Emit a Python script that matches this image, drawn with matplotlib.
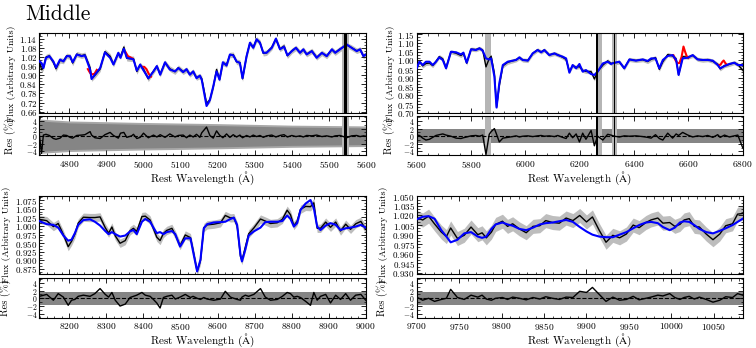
import numpy as np
import matplotlib
matplotlib.use('Agg')
import matplotlib.pyplot as plt
from matplotlib.ticker import MultipleLocator, AutoMinorLocator

plt.rcParams['font.family'] = 'serif'
plt.rcParams['font.serif'] = ['cmr10']
plt.rcParams['mathtext.fontset'] = 'cm'
plt.rcParams['axes.formatter.use_mathtext'] = True
plt.rcParams['xtick.direction'] = 'in'
plt.rcParams['ytick.direction'] = 'in'
plt.rcParams['xtick.top'] = True
plt.rcParams['ytick.right'] = True
plt.rcParams['xtick.labelsize'] = 6.8
plt.rcParams['ytick.labelsize'] = 6.5
plt.rcParams['xtick.major.pad'] = 2.5
plt.rcParams['ytick.major.pad'] = 1.5

W, H = 756, 348

# ---- panel 1 : 4720 - 5600 A ----
wave1 = [4719, 4725, 4730, 4737, 4746, 4757, 4764, 4775, 4784, 4793,
         4802, 4809, 4820, 4833, 4842, 4856, 4860, 4869, 4883, 4896,
         4910, 4919, 4932, 4938, 4947, 4955, 4968, 4973, 4982, 4991,
         5000, 5013, 5027, 5036, 5045, 5058, 5071, 5085, 5094, 5107,
         5116, 5125, 5134, 5143, 5152, 5157, 5170, 5179, 5188, 5197,
         5205, 5214, 5224, 5233, 5242, 5251, 5260, 5267, 5278, 5287,
         5296, 5305, 5314, 5323, 5332, 5346, 5357, 5368, 5379, 5388,
         5400, 5411, 5422, 5431, 5440, 5454, 5467, 5481, 5494, 5508,
         5517, 5530, 5548, 5561, 5575, 5584, 5593, 5600]
model1 = [0.992, 0.98, 0.947, 1.014, 1.025, 0.99, 0.95, 1.003, 0.99, 1.025,
          1.025, 0.985, 1.036, 1.025, 1.03, 0.937, 0.875, 0.903, 0.947, 1.05,
          1.014, 0.97, 1.047, 1.014, 1.074, 1.014, 1.007, 1.003, 0.93, 0.97,
          0.932, 0.88, 0.925, 0.96, 0.903, 0.985, 0.937, 0.925, 0.947, 0.92,
          0.94, 0.903, 0.925, 0.88, 0.897, 0.87, 0.698, 0.737, 0.826, 0.925,
          0.87, 0.985, 0.963, 1.036, 1.03, 0.99, 0.98, 0.88, 1.025, 1.113,
          1.08, 1.136, 1.113, 1.047, 1.047, 1.08, 1.14, 1.07, 1.087, 1.03,
          1.058, 1.08, 1.047, 1.07, 1.036, 1.058, 1.014, 1.047, 1.025, 1.07,
          1.047, 1.07, 1.102, 1.08, 1.058, 1.07, 1.025, 1.036]
res1 = [0.5, -4.5, 0.3, 0.5, 0.2, -0.6, -0.8, -0.5, 0.3, 0.2,
        -0.3, -0.5, 0.2, 0.3, 0.4, 1.2, 0.3, -0.4, -0.6, 0.4,
        1.0, 0.2, -0.5, 0.8, 1.0, -0.3, 0.1, 0.5, -0.6, -0.3,
        0.8, -0.4, 0.3, -0.2, 0.4, -0.3, 0.6, -0.2, 0.2, 0.3,
        -0.4, 0.3, -0.2, 0.5, -0.3, 0.9, 2.4, 0.2, -0.5, 1.4,
        0.3, -0.4, 0.6, -0.3, 0.4, -0.2, 0.3, -0.4, 0.2, -0.2,
        0.3, -0.1, 0.2, -0.3, 0.1, 0.3, -0.2, 0.2, 0.4, -0.2,
        0.2, -0.1, 0.1, -0.2, 0.2, 0.1, 0.3, -0.1, 0.1, -0.2,
        0.1, 0.2, -0.4, 0.1, 0.2, -0.1, 0.1, 0.0]
err_wave1 = [4719, 4800, 5000, 5200, 5400, 5600]
err_pct1 = [4.0, 3.5, 3.1, 2.8, 2.4, 2.2]
red1 = [([4850, 4856, 4862, 4868, 4874], [0.94, 0.915, 0.905, 0.91, 0.935]),
        ([4952, 4958, 4964, 4970], [1.05, 1.025, 1.018, 1.01]),
        ([4996, 5002, 5008, 5014, 5020], [0.955, 0.955, 0.94, 0.91, 0.89])]
grey1 = [(5536, 5553)]
black1 = [(5540, 5549)]

# ---- panel 2 : 5600 - 6800 A ----
wave2 = [5600, 5610, 5622, 5634, 5647, 5659, 5671, 5683, 5696, 5708,
         5726, 5745, 5763, 5772, 5784, 5800, 5818, 5831, 5843, 5855,
         5867, 5874, 5886, 5894, 5904, 5917, 5935, 5953, 5966, 5978,
         5990, 6009, 6027, 6045, 6058, 6070, 6088, 6107, 6119, 6137,
         6150, 6162, 6174, 6187, 6199, 6211, 6223, 6242, 6254, 6266,
         6285, 6303, 6315, 6328, 6346, 6364, 6383, 6407, 6432, 6450,
         6463, 6479, 6493, 6506, 6524, 6542, 6555, 6564, 6579, 6598,
         6616, 6634, 6653, 6671, 6690, 6708, 6717, 6733, 6751, 6769,
         6782, 6800]
model2 = [0.955, 0.993, 0.974, 0.993, 0.993, 0.974, 0.993, 1.018, 1.003, 0.955,
          1.05, 1.047, 1.035, 1.045, 0.987, 1.064, 1.06, 1.07, 1.056, 1.012,
          1.006, 1.012, 0.907, 0.73, 0.869, 0.974, 0.993, 0.999, 1.003, 1.018,
          1.003, 0.999, 1.041, 1.06, 1.047, 1.06, 1.031, 1.041, 1.031, 1.022,
          1.012, 0.93, 0.974, 0.955, 0.98, 0.936, 0.945, 0.922, 0.917, 0.936,
          0.983, 0.993, 0.98, 0.987, 0.993, 0.955, 1.006, 0.999, 1.006, 0.997,
          1.012, 1.012, 0.955, 1.003, 1.026, 1.031, 1.003, 0.917, 1.012, 1.016,
          1.031, 1.006, 1.003, 1.003, 0.999, 0.974, 0.955, 0.968, 0.98, 0.987,
          0.974, 0.974]
res2 = [0.3, 0.2, -0.5, -1.0, -0.8, -0.3, 0.2, 0.4, 0.6, 0.3,
        0.0, -0.5, -0.6, -0.4, -0.2, 0.1, 0.2, 0.0, 0.3, -4.8,
        0.5, 1.2, 2.0, 0.5, -1.5, -0.5, -0.3, -0.1, 0.1, -0.2,
        0.0, 0.1, -0.1, 0.1, 0.2, 0.0, 0.1, -0.1, 0.2, -0.3,
        -0.6, 0.8, -0.4, 0.6, -1.5, 0.8, -0.8, 1.5, -2.5, 0.0,
        -1.0, 0.5, 0.3, 0.0, -0.2, 0.1, 0.0, 0.1, -0.1, -0.3,
        -0.5, 0.4, -0.6, -1.0, 0.8, -0.5, 0.6, 0.2, 1.0, 0.3,
        -0.2, 0.1, -0.1, 0.2, -0.3, 0.4, -0.3, 0.3, -0.2, 0.1,
        0.3, -3.0]
err_wave2 = [5600, 6800]
err_pct2 = [1.8, 1.8]
red2 = [([6545, 6553, 6560, 6567, 6575, 6582, 6588, 6595, 6600],
         [1.03, 1.0, 0.985, 0.985, 1.02, 1.08, 1.05, 1.02, 1.015]),
        ([6712, 6718, 6724, 6730, 6736, 6742], [0.975, 0.975, 0.99, 1.0, 0.985, 0.975])]
grey2 = [(5852, 5872), (6260, 6282), (6319, 6336)]
black2 = [(6261, 6269), (6325, 6330)]

# ---- panel 3 : 8120 - 9000 A ----
wave3 = [8119, 8139, 8157, 8170, 8184, 8197, 8206, 8215, 8224, 8238,
         8256, 8269, 8283, 8297, 8306, 8315, 8324, 8337, 8351, 8364,
         8373, 8382, 8396, 8405, 8418, 8427, 8436, 8445, 8454, 8463,
         8477, 8486, 8499, 8513, 8527, 8534, 8545, 8554, 8563, 8572,
         8590, 8608, 8621, 8635, 8644, 8653, 8662, 8666, 8675, 8684,
         8698, 8716, 8729, 8743, 8761, 8775, 8788, 8797, 8806, 8815,
         8824, 8838, 8851, 8860, 8869, 8878, 8892, 8905, 8919, 8932,
         8946, 8959, 8973, 8987, 9000]
model3 = [1.014, 1.005, 1.003, 0.995, 0.972, 0.957, 0.96, 0.979, 1.003, 1.017,
          1.019, 1.012, 1.001, 0.985, 0.976, 0.982, 0.976, 0.969, 0.972, 0.984,
          0.988, 0.976, 1.012, 1.02, 1.012, 0.995, 0.979, 0.982, 0.976, 0.982,
          0.985, 0.976, 0.94, 0.964, 0.964, 0.926, 0.868, 0.902, 0.993, 1.005,
          1.01, 1.011, 1.012, 1.02, 1.024, 1.003, 0.916, 0.897, 0.931, 0.972,
          0.984, 0.995, 1.011, 1.012, 1.012, 1.014, 1.03, 1.02, 0.998, 1.008,
          1.046, 1.065, 1.075, 1.051, 0.998, 0.988, 1.001, 1.008, 1.003, 0.988,
          0.993, 0.995, 0.998, 1.003, 0.995]
res3 = [0.5, 1.0, -0.5, 1.2, 0.3, -1.8, -0.5, -0.3, 0.5, 0.8,
        0.5, 1.2, 2.5, 1.0, 0.3, 1.5, -0.5, -2.0, -1.5, 0.2,
        0.5, 0.8, 1.5, 0.8, 0.5, -0.3, -1.2, -2.5, 0.2, 0.5,
        0.8, -0.2, 0.3, 1.0, 0.2, 0.5, 0.0, -0.3, 0.2, -0.2,
        -0.5, -0.2, 1.8, 0.3, 0.0, -0.3, -0.5, 0.3, 0.8, 0.5,
        1.0, 2.5, 0.3, -0.5, -0.3, 0.5, 1.5, 1.2, 0.3, 0.5,
        0.2, -0.8, -1.8, 1.5, -0.5, 0.5, 1.0, -1.2, 0.8, -0.3,
        1.2, -0.5, 0.8, 1.0, -0.5]
err_wave3 = [8119, 9000]
err_pct3 = [1.7, 1.7]

# ---- panel 4 : 9700 - 10085 A ----
wave4 = [9700, 9707, 9714, 9721, 9729, 9735, 9740, 9748, 9756, 9764,
         9772, 9777, 9782, 9788, 9793, 9801, 9807, 9813, 9821, 9829,
         9837, 9845, 9852, 9860, 9868, 9876, 9884, 9892, 9900, 9907,
         9915, 9923, 9931, 9939, 9947, 9955, 9962, 9970, 9976, 9984,
         9990, 9998, 10004, 10010, 10015, 10021, 10027, 10033, 10041, 10049,
         10057, 10064, 10072, 10078, 10084]
model4 = [1.014, 1.018, 1.019, 1.015, 0.997, 0.987, 0.978, 0.982, 0.992, 0.994,
          0.987, 0.985, 0.987, 0.999, 1.006, 1.009, 1.006, 1.004, 0.999, 0.997,
          1.001, 1.006, 1.008, 1.009, 1.011, 1.013, 1.01, 1.002, 0.995, 0.99,
          0.987, 0.986, 0.986, 0.99, 0.994, 1.0, 1.005, 1.009, 1.01, 1.008,
          1.002, 0.997, 1.001, 1.009, 1.011, 1.01, 1.005, 0.999, 0.994, 0.992,
          0.996, 1.0, 1.005, 1.01, 1.015]
res4 = [0.3, -0.5, 0.0, -0.8, -0.3, 0.0, 2.3, 0.2, -0.3, 0.8,
        0.3, 0.8, -0.2, -0.5, 0.0, 0.2, -0.3, 0.3, 0.0, -0.4,
        0.2, -0.2, 0.4, 0.0, -0.3, 0.3, 0.2, 1.8, 1.5, 2.8,
        1.0, -0.8, 0.3, -0.5, -0.3, 0.5, -0.4, 0.0, 0.3, 0.8,
        0.6, 1.2, 0.2, -0.3, 0.2, 0.5, -0.2, 0.3, -0.3, -1.0,
        -0.5, 0.4, 0.2, 1.2, 0.8]
err_wave4 = [9700, 10084]
err_pct4 = [1.7, 1.7]


def fig_rect(left, right, top, bottom):
    return [left / W, 1 - bottom / H, (right - left) / W, (bottom - top) / H]


def draw_panel(fig, xpix, ypix, wave, model, res, flux_err, err_wave, err_pct,
               xlim, ylim, xmaj, ymaj, red=(), grey=(), black=(), edge=0.0, labx=-0.065):
    ax = fig.add_axes(fig_rect(xpix[0], xpix[1], ypix[0], ypix[1]))
    rax = fig.add_axes(fig_rect(xpix[0], xpix[1], ypix[2], ypix[3]), sharex=ax)

    wave = np.array(wave)
    model = np.array(model)
    res = np.array(res)
    data = model * (1 + res / 100.)

    ax.fill_between(wave, data - flux_err, data + flux_err, color='#bdbdbd', lw=0, zorder=1)
    ax.plot(wave, data, color='k', lw=1.0, zorder=3)
    ax.plot(wave, model, color='#0000ff', lw=1.5, zorder=4)
    for rw, rf in red:
        ax.plot(rw, rf, color='#ff0000', lw=1.5, zorder=3.5)

    ew = np.array(err_wave)
    ep = np.array(err_pct)
    if edge > 0:
        rax.fill_between(ew, -ep - edge, ep + edge, color='#a8a8a8', lw=0, zorder=1)
    rax.fill_between(ew, -ep, ep, color='#858585', lw=0, zorder=1.2)
    rax.plot(wave, res, color='k', lw=1.0, zorder=3)
    rax.axhline(0, color='k', ls='--', lw=0.8, zorder=2.5)

    for a in (ax, rax):
        for lo, hi in grey:
            a.axvspan(lo, hi, color='#b5b5b5', lw=0, zorder=2)
        for lo, hi in black:
            a.axvspan(lo, hi, color='k', lw=0, zorder=5)

    ax.set_xlim(*xlim)
    ax.set_ylim(*ylim)
    rax.set_ylim(-5, 5.3)
    ax.xaxis.set_major_locator(MultipleLocator(xmaj))
    ax.xaxis.set_minor_locator(AutoMinorLocator(5))
    ax.yaxis.set_major_locator(MultipleLocator(ymaj))
    ax.yaxis.set_minor_locator(AutoMinorLocator(3))
    rax.yaxis.set_major_locator(MultipleLocator(2))
    rax.yaxis.set_minor_locator(AutoMinorLocator(2))
    ax.tick_params(labelbottom=False)
    rax.tick_params(axis='y', labelsize=5.6)
    for a in (ax, rax):
        a.tick_params(which='major', length=3.5, width=0.6)
        a.tick_params(which='minor', length=1.8, width=0.5)
        for s in a.spines.values():
            s.set_linewidth(0.8)

    ax.set_ylabel('Flux (Arbitrary Units)', fontsize=7)
    rax.set_ylabel('Res (%)', fontsize=7.5)
    ax.yaxis.set_label_coords(labx, 0.5)
    rax.yaxis.set_label_coords(labx, 0.5)
    rax.set_xlabel(r'Rest Wavelength ($\mathrm{\AA}$)', fontsize=8, labelpad=0)
    return ax, rax


fig = plt.figure(figsize=(W / 100, H / 100), dpi=100)

draw_panel(fig, (39.3, 366), (33.3, 113.3, 116, 155.3), wave1, model1, res1, 0.018,
           err_wave1, err_pct1, (4719, 5600), (0.65, 1.175), 100, 0.06,
           red=red1, grey=grey1, black=black1, edge=0.5, labx=-0.072)
draw_panel(fig, (416.7, 742.7), (33.3, 113.3, 116, 155.3), wave2, model2, res2, 0.012,
           err_wave2, err_pct2, (5600, 6800), (0.697, 1.156), 200, 0.05,
           red=red2, grey=grey2, black=black2, labx=-0.068)
draw_panel(fig, (39.3, 365.7), (195.7, 274, 277.7, 317.7), wave3, model3, res3, 0.012,
           err_wave3, err_pct3, (8119, 9000), (0.8605, 1.0875), 100, 0.025, labx=-0.088)
draw_panel(fig, (416.7, 742.7), (195.7, 274, 277.7, 317.7), wave4, model4, res4, 0.011,
           err_wave4, err_pct4, (9700, 10084), (0.9284, 1.051), 50, 0.015, labx=-0.088)

fig.text(0.034, 0.943, 'Middle', fontsize=15.5, va='baseline', ha='left')

fig.savefig('out.png', dpi=100)
